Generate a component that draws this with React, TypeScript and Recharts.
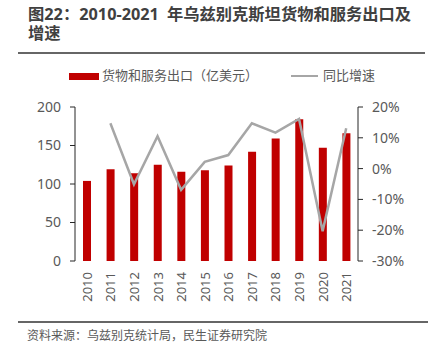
import React from "react";
import { Bar, ComposedChart, Line, XAxis, YAxis } from "recharts";

// Uzbekistan goods & services exports, 2010-2021
const years = ["2010", "2011", "2012", "2013", "2014", "2015", "2016", "2017", "2018", "2019", "2020", "2021"];
const exportValues = [104, 119, 114, 125, 116, 118, 124, 142, 159, 184, 147, 166];
const growthRates: (number | null)[] = [null, 14.7, -5.1, 10.5, -6.9, 2.2, 4.4, 14.7, 11.7, 16.1, -20.3, 13.1];
const leftTicks = [0, 50, 100, 150, 200];
const rightTicks = [-30, -20, -10, 0, 10, 20];
const boundaryTicks = [0, 1, 2, 3, 4, 5, 6, 7, 8, 9, 10, 11, 12];

const data = years.map((year, i) => ({
  year,
  value: exportValues[i],
  growth: growthRates[i],
}));

const FONT = '"Noto Sans", "Noto Sans CJK SC", sans-serif';
const TEXT = "#595959";
const AXIS = "#262626";

function YearTick({ x, y, payload }: any) {
  return (
    <text
      x={x}
      y={y}
      transform={`rotate(-90 ${x} ${y})`}
      textAnchor="end"
      dominantBaseline="central"
      fontSize={13}
      fill={TEXT}
      fontFamily={FONT}
    >
      {payload.value}
    </text>
  );
}

const EmptyTick = () => <g />;

export default function App() {
  return (
    <div
      style={{
        position: "absolute",
        left: 0,
        top: 0,
        width: 428,
        height: 350,
        background: "#fff",
        fontFamily: FONT,
      }}
    >
      <ComposedChart
        width={428}
        height={350}
        data={data}
        margin={{ top: 107, right: 0, bottom: 0, left: 0 }}
      >
        <XAxis
          xAxisId="grid"
          type="number"
          domain={[0, 12]}
          allowDataOverflow
          ticks={boundaryTicks}
          height={0}
          tick={EmptyTick}
          tickSize={5}
          axisLine={{ stroke: AXIS }}
          tickLine={{ stroke: AXIS }}
        />
        <XAxis
          xAxisId="cat"
          dataKey="year"
          height={89}
          axisLine={false}
          tickLine={false}
          tickSize={0}
          tickMargin={11}
          interval={0}
          tick={<YearTick />}
        />
        <YAxis
          yAxisId="left"
          domain={[0, 200]}
          ticks={leftTicks}
          width={75}
          tickSize={5}
          tickMargin={9}
          axisLine={{ stroke: AXIS }}
          tickLine={{ stroke: AXIS }}
          tick={{ fill: TEXT, fontSize: 14, fontFamily: FONT }}
        />
        <YAxis
          yAxisId="right"
          orientation="right"
          domain={[-30, 20]}
          ticks={rightTicks}
          width={70}
          tickSize={5}
          tickMargin={9}
          tickFormatter={(v: number) => `${v}%`}
          axisLine={{ stroke: AXIS }}
          tickLine={{ stroke: AXIS }}
          tick={{ fill: TEXT, fontSize: 14, fontFamily: FONT }}
        />
        <Bar
          xAxisId="cat"
          yAxisId="left"
          dataKey="value"
          fill="#c00000"
          barSize={8}
          isAnimationActive={false}
        />
        <Line
          xAxisId="cat"
          yAxisId="right"
          dataKey="growth"
          stroke="#a6a6a6"
          strokeWidth={2.5}
          dot={false}
          isAnimationActive={false}
        />
      </ComposedChart>

      {/* title */}
      <div style={{ position: "absolute", left: 28, top: 5, fontSize: 16.3, lineHeight: "19px", fontWeight: 700, color: "#404040", whiteSpace: "nowrap" }}>
        图22：2010-2021<span style={{ marginLeft: 8 }}>年乌兹别克斯坦货物和服务出口及</span>
      </div>
      <div style={{ position: "absolute", left: 28, top: 24, fontSize: 16.3, lineHeight: "19px", fontWeight: 700, color: "#404040", whiteSpace: "nowrap" }}>
        增速
      </div>
      <div style={{ position: "absolute", left: 18, top: 52, width: 407, height: 2, background: "#666" }} />

      {/* legend */}
      <div style={{ position: "absolute", left: 69, top: 73, width: 30, height: 7, background: "#c00000" }} />
      <div style={{ position: "absolute", left: 102, top: 66, fontSize: 13, lineHeight: "19px", color: TEXT, whiteSpace: "nowrap" }}>
        货物和服务出口（亿美元）
      </div>
      <div style={{ position: "absolute", left: 291, top: 75, width: 27, height: 2, background: "#a6a6a6" }} />
      <div style={{ position: "absolute", left: 323, top: 66, fontSize: 13, lineHeight: "19px", color: TEXT, whiteSpace: "nowrap" }}>
        同比增速
      </div>

      {/* source */}
      <div style={{ position: "absolute", left: 18, top: 321, width: 410, height: 2, background: "#666" }} />
      <div style={{ position: "absolute", left: 27, top: 328, fontSize: 12, lineHeight: "16px", color: TEXT, whiteSpace: "nowrap" }}>
        资料来源：乌兹别克统计局，民生证券研究院
      </div>
    </div>
  );
}
